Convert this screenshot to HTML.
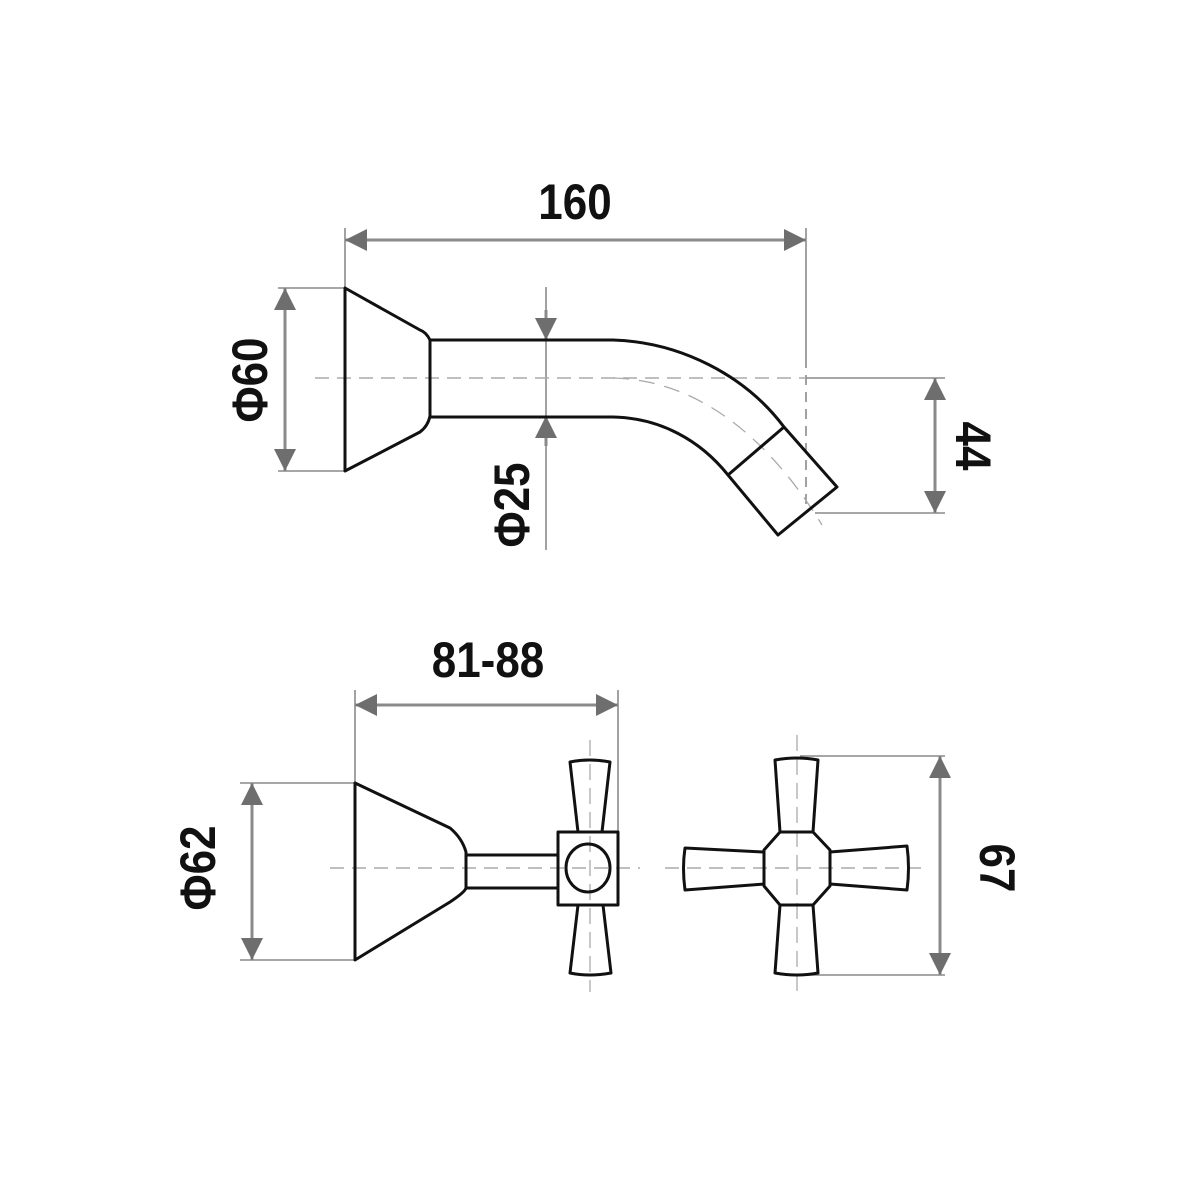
<!DOCTYPE html>
<html><head><style>
html,body{margin:0;padding:0;background:#fff;}
svg{display:block;}
text{font-family:"Liberation Sans",sans-serif;font-weight:bold;font-size:50px;fill:#111;}
</style></head><body>
<svg width="1200" height="1200" viewBox="0 0 1200 1200" xmlns="http://www.w3.org/2000/svg">
<defs>
<marker id="a" viewBox="0 0 10 10" refX="10" refY="5" markerWidth="22" markerHeight="22" markerUnits="userSpaceOnUse" orient="auto-start-reverse"><path d="M0,0 L10,5 L0,10 z" fill="#6e6e6e"/></marker>
</defs>
<g stroke="#8a8a8a" stroke-width="1.6" fill="none">
<line x1="345" y1="228" x2="345" y2="290"/>
<line x1="806" y1="228" x2="806" y2="358"/>
<line x1="806" y1="358" x2="806" y2="512" stroke-dasharray="10,7"/>
<line x1="278" y1="288" x2="345" y2="288"/>
<line x1="278" y1="471" x2="345" y2="471"/>
<line x1="546" y1="287" x2="546" y2="550"/>
<line x1="806" y1="378" x2="945" y2="378"/>
<line x1="815" y1="513" x2="945" y2="513"/>
<line x1="355" y1="690" x2="355" y2="785"/>
<line x1="618" y1="690" x2="618" y2="862"/>
<line x1="240" y1="783" x2="355" y2="783"/>
<line x1="240" y1="960" x2="355" y2="960"/>
<line x1="800" y1="756" x2="945" y2="756"/>
<line x1="800" y1="975" x2="945" y2="975"/>
</g>
<g stroke="#8a8a8a" stroke-width="3" fill="none">
<line x1="345" y1="240" x2="806" y2="240" marker-start="url(#a)" marker-end="url(#a)"/>
<line x1="285" y1="288" x2="285" y2="471" marker-start="url(#a)" marker-end="url(#a)"/>
<line x1="935" y1="378" x2="935" y2="513" marker-start="url(#a)" marker-end="url(#a)"/>
<line x1="355" y1="705" x2="618" y2="705" marker-start="url(#a)" marker-end="url(#a)"/>
<line x1="252" y1="783" x2="252" y2="960" marker-start="url(#a)" marker-end="url(#a)"/>
<line x1="940" y1="756" x2="940" y2="975" marker-start="url(#a)" marker-end="url(#a)"/>
<line x1="546" y1="310" x2="546" y2="340" marker-end="url(#a)"/>
<line x1="546" y1="446" x2="546" y2="416" marker-end="url(#a)"/>
</g>
<g stroke="#aaa" stroke-width="1.6" fill="none" stroke-dasharray="14,8">
<line x1="315" y1="378" x2="806" y2="378"/>
<path d="M613,378 C700,380 770,440 822,525" stroke-dasharray="16,10" stroke-width="1.3"/>
<line x1="330" y1="868" x2="640" y2="868"/>
<line x1="665" y1="868" x2="925" y2="868"/>
<line x1="590" y1="740" x2="590" y2="992" stroke-dasharray="16,8" stroke-width="1.3"/>
<line x1="797" y1="735" x2="797" y2="992" stroke-dasharray="16,8" stroke-width="1.3"/>
</g>
<g stroke="#111" stroke-width="3" fill="none" stroke-linejoin="round">
<path d="M345,288 L345,471 L420,432 Q428,426 430,416 L430,340 Q426,332 420,330 Z"/>
<path d="M430,340 L613,340 C680,342 745,375 784,427 L837,487 L778,535 L728,475 C700,440 660,418 613,417 L430,417"/>
<line x1="784" y1="427" x2="728" y2="475"/>
<path d="M355,783 L355,960 L450,902 Q465,892 466,888 L466,852 Q462,838 450,828 Z"/>
<rect x="466" y="855" width="92" height="33"/>
<rect x="558" y="832" width="60" height="73"/>
<ellipse cx="588" cy="868" rx="22" ry="24"/>
<path d="M578,832 L570,762 Q589,758 610,762 L602,832"/>
<path d="M578,905 L570,973 Q589,977 611,973 L603,905"/>
<path d="M780,832 L813,832 L830,850 L830,886 L813,905 L780,905 L764,886 L764,850 Z"/>
<path d="M780,832 L775,760 Q797,756 818,760 L813,832"/>
<path d="M780,905 L775,973 Q797,977 818,973 L813,905"/>
<path d="M764,852 L685,848 Q682,868 685,890 L764,884"/>
<path d="M830,852 L907,846 Q910,868 907,890 L830,884"/>
</g>
<text transform="translate(575,219) scale(0.88,1)" text-anchor="middle">160</text>
<text transform="translate(488,677) scale(0.88,1)" text-anchor="middle">81-88</text>
<text transform="translate(267,380) rotate(-90) scale(0.88,1)" text-anchor="middle">Φ60</text>
<text transform="translate(529,505) rotate(-90) scale(0.88,1)" text-anchor="middle">Φ25</text>
<text transform="translate(956,446) rotate(90) scale(0.88,1)" text-anchor="middle">44</text>
<text transform="translate(215,868) rotate(-90) scale(0.88,1)" text-anchor="middle">Φ62</text>
<text transform="translate(980,868) rotate(90) scale(0.88,1)" text-anchor="middle">67</text>
</svg>
</body></html>
